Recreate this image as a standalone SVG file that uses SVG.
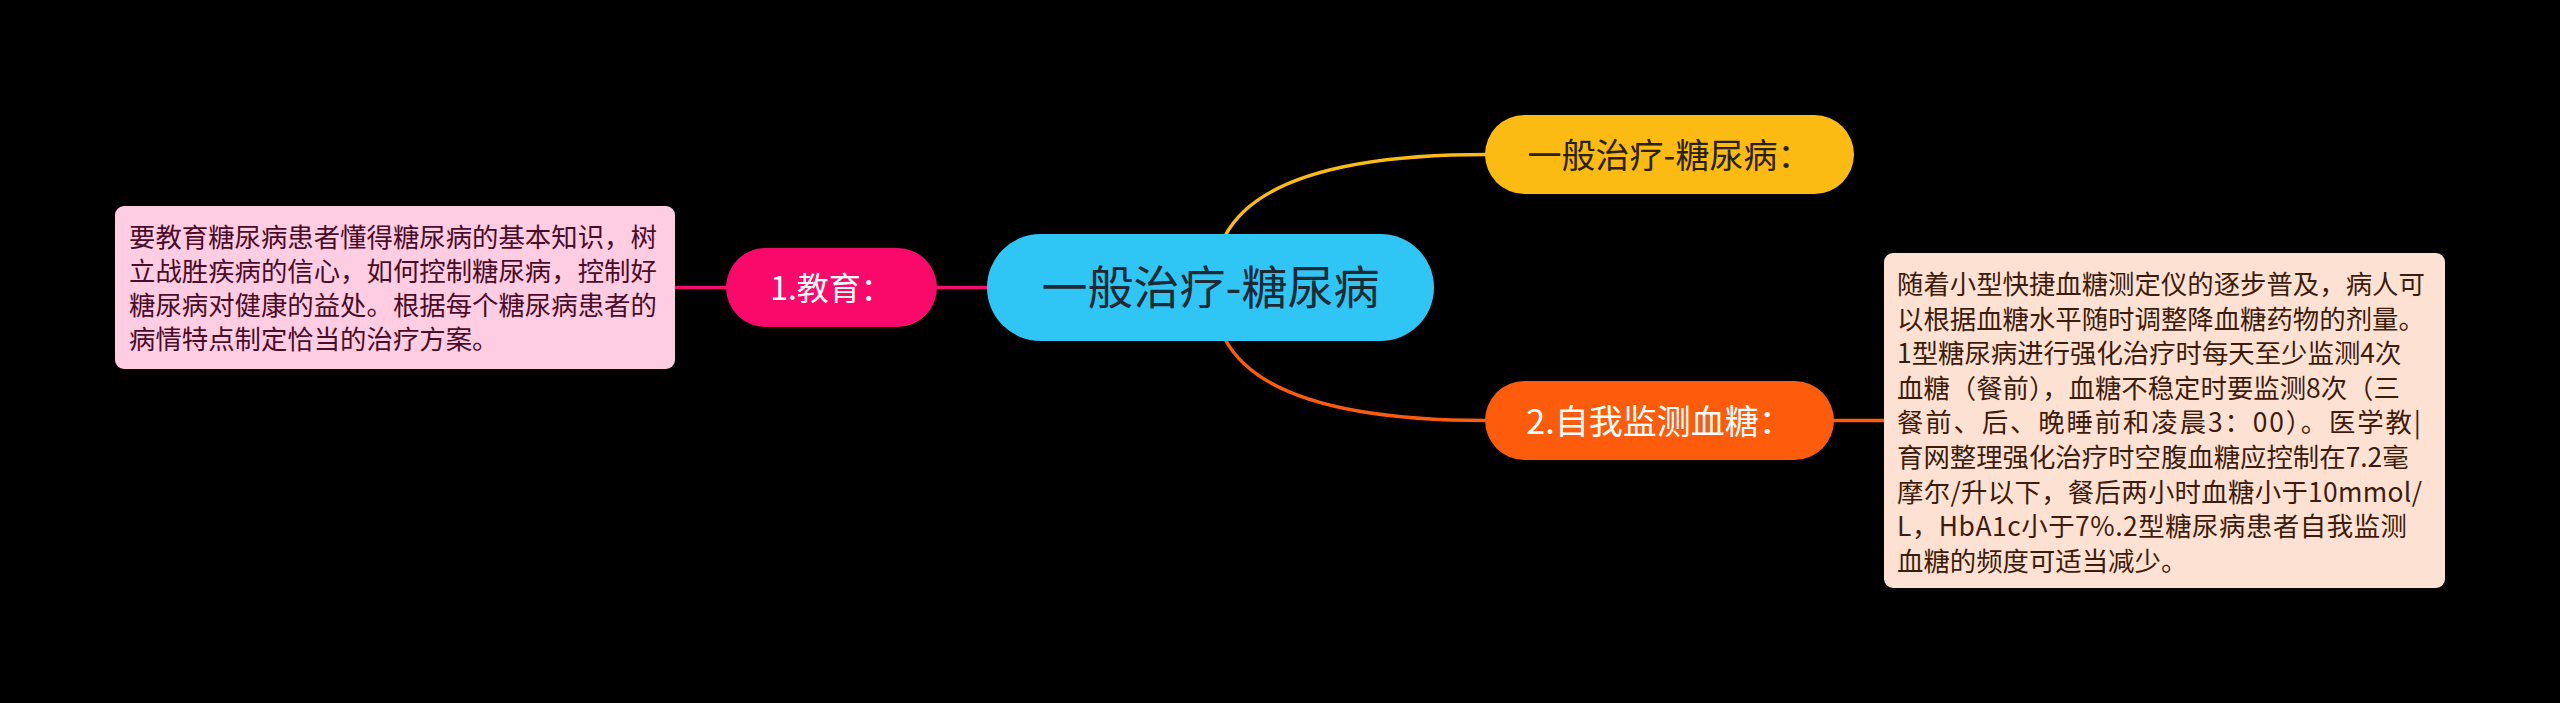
<svg xmlns="http://www.w3.org/2000/svg" width="2560" height="703" viewBox="0 0 2560 703">
<style>
text{font-family:"Noto Sans CJK SC","Noto Sans",sans-serif;}
.body{font-size:26.4px;}
.lbox{fill:#fecde2;}
.ltxt{fill:#4a0c28;}
.rbox{fill:#fde2d3;}
.rtxt{fill:#3e1c0c;}
.pill-t{font-size:34px;text-anchor:middle;}
.conn{fill:none;stroke-width:3.5;stroke-linecap:round;}
</style>
<rect x="0" y="0" width="2560" height="703" fill="#000000"/>
<g id="connectors">
<path class="conn" d="M675,287.5 L726,287.5" stroke="#f40f6c"/>
<path class="conn" d="M937,287.5 L988,287.5" stroke="#f40f6c"/>
<path class="conn" d="M1225,236 Q1268,154.5 1487,154.5" stroke="#fbbb13"/>
<path class="conn" d="M1225,339 Q1268,420.5 1487,420.5" stroke="#fd5c0c"/>
<path class="conn" d="M1833,420.5 L1885,420.5" stroke="#fd5c0c"/>
</g>
<g id="center">
<rect x="987" y="234" width="447" height="107" rx="53.5" fill="#2fc5f5"/>
<text x="1210.5" y="304" font-size="46" text-anchor="middle" fill="#1d2a33">一般治疗-糖尿病</text>
</g>
<g id="top-right">
<rect x="1485" y="115" width="369" height="79" rx="39.5" fill="#fbbb13"/>
<text class="pill-t" x="1669.5" y="168" fill="#2a2100">一般治疗-糖尿病：</text>
</g>
<g id="edu">
<rect x="726" y="248" width="211" height="79" rx="39.5" fill="#f90a6a"/>
<text x="831.5" y="299.5" font-size="32" text-anchor="middle" fill="#ffffff">1.教育：</text>
</g>
<g id="edu-note">
<rect class="lbox" x="115" y="206" width="560" height="163" rx="9"/>
<text class="body ltxt">
<tspan x="129" y="246.7">要教育糖尿病患者懂得糖尿病的基本知识，树</tspan>
<tspan x="129" y="280.8">立战胜疾病的信心，如何控制糖尿病，控制好</tspan>
<tspan x="129" y="314.9">糖尿病对健康的益处。根据每个糖尿病患者的</tspan>
<tspan x="129" y="349">病情特点制定恰当的治疗方案。</tspan>
</text>
</g>
<g id="monitor">
<rect x="1485" y="381" width="349" height="79" rx="39.5" fill="#fd5c0c"/>
<text class="pill-t" x="1659.5" y="433.5" fill="#ffffff">2.自我监测血糖：</text>
</g>
<g id="monitor-note">
<rect class="rbox" x="1884" y="253" width="561" height="335" rx="9"/>
<text class="body rtxt" x="1897" y="294">随着小型快捷血糖测定仪的逐步普及，病人可</text>
<text class="body rtxt" x="1897" y="328.6">以根据血糖水平随时调整降血糖药物的剂量。</text>
<text class="body rtxt" x="1897" y="363.2">1型糖尿病进行强化治疗时每天至少监测4次</text>
<text class="body rtxt" x="1897" y="397.8">血糖（餐前），血糖不稳定时要监测8次（三</text>
<text class="body rtxt" x="1897" y="432.4" textLength="524" lengthAdjust="spacing">餐前、后、晚睡前和凌晨3：00）。医学教|</text>
<text class="body rtxt" x="1897" y="467">育网整理强化治疗时空腹血糖应控制在7.2毫</text>
<text class="body rtxt" x="1897" y="501.6" textLength="525" lengthAdjust="spacing">摩尔/升以下，餐后两小时血糖小于10mmol/</text>
<text class="body rtxt" x="1897" y="536.2" textLength="510" lengthAdjust="spacing">L，HbA1c小于7%.2型糖尿病患者自我监测</text>
<text class="body rtxt" x="1897" y="570.8">血糖的频度可适当减少。</text>
</g>
</svg>
